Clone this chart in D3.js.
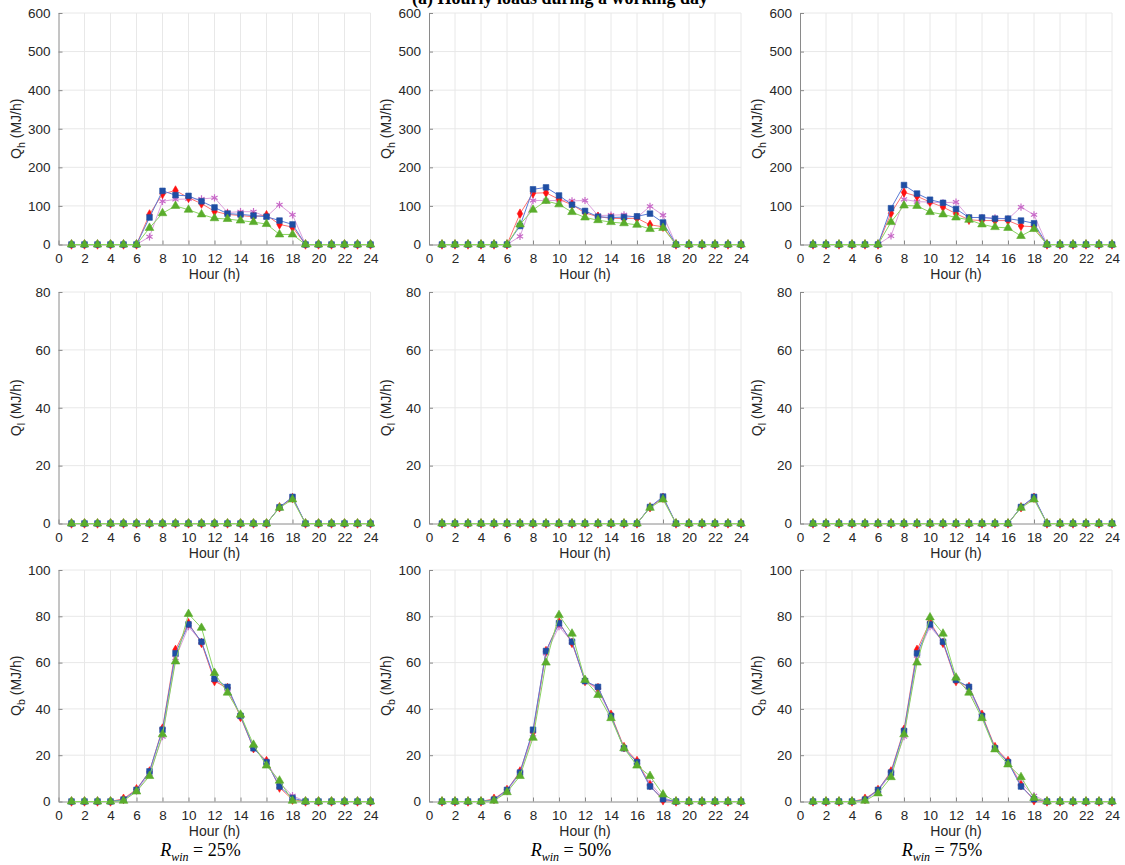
<!DOCTYPE html>
<html>
<head>
<meta charset="utf-8">
<script src="https://cdn.jsdelivr.net/npm/d3@7"></script>
<style>
  body { margin: 0; background: #fff; }
  text { font-family: Arial, "Liberation Sans", sans-serif; }
</style>
</head>
<body>
<svg width="1125" height="865"></svg>
<script>
// hours and tick labels
var hours = [1,2,3,4,5,6,7,8,9,10,11,12,13,14,15,16,17,18,19,20,21,22,23,24];
var xTicks = [0,2,4,6,8,10,12,14,16,18,20,22,24];
var qhTicks = [0,100,200,300,400,500,600];
var qlTicks = [0,20,40,60,80];
var qbTicks = [0,20,40,60,80,100];
var rwinLabels = ['25%', '50%', '75%'];

// Q_h, R_win = 25%
var qh25Red   = [0,0,0,0,0,0,78,131,140,121,106,86,78,75,72,76,52,45,0,0,0,0,0,0];
var qh25Blue  = [0,0,0,0,0,0,70,139,128,126,112,96,80,78,75,72,62,52,0,0,0,0,0,0];
var qh25Pink  = [0,0,0,0,0,0,20,112,117,118,118,121,83,85,85,72,103,77,0,0,0,0,0,0];
var qh25Green = [0,0,0,0,0,0,43,81,100,90,78,68,66,62,58,53,26,26,0,0,0,0,0,0];
// Q_h, R_win = 50%
var qh50Red   = [0,0,0,0,0,0,80,133,134,117,103,82,72,68,67,68,51,46,0,0,0,0,0,0];
var qh50Blue  = [0,0,0,0,0,0,48,143,148,127,103,87,72,70,71,73,80,57,0,0,0,0,0,0];
var qh50Pink  = [0,0,0,0,0,0,21,114,114,114,113,114,75,76,77,70,99,76,0,0,0,0,0,0];
var qh50Green = [0,0,0,0,0,0,52,90,113,104,84,70,63,58,55,51,40,43,0,0,0,0,0,0];
// Q_h, R_win = 75%
var qh75Red   = [0,0,0,0,0,0,81,135,125,110,97,80,64,62,62,62,48,46,0,0,0,0,0,0];
var qh75Blue  = [0,0,0,0,0,0,94,154,132,116,108,92,70,70,67,67,62,55,0,0,0,0,0,0];
var qh75Pink  = [0,0,0,0,0,0,22,117,111,110,108,110,70,70,69,66,97,77,0,0,0,0,0,0];
var qh75Green = [0,0,0,0,0,0,58,101,100,84,78,70,64,52,45,43,22,40,0,0,0,0,0,0];

// Q_l
var ql25Red   = [0,0,0,0,0,0,0,0,0,0,0,0,0,0,0,0,5.6,8.8,0,0,0,0,0,0];
var ql25Blue  = [0,0,0,0,0,0,0,0,0,0,0,0,0,0,0,0,5.6,9.2,0,0,0,0,0,0];
var ql25Pink  = [0,0,0,0,0,0,0,0,0,0,0,0,0,0,0,0,5.5,9.0,0,0,0,0,0,0];
var ql25Green = [0,0,0,0,0,0,0,0,0,0,0,0,0,0,0,0,5.4,8.3,0,0,0,0,0,0];
var ql50Red   = [0,0,0,0,0,0,0,0,0,0,0,0,0,0,0,0,5.6,8.9,0,0,0,0,0,0];
var ql50Blue  = [0,0,0,0,0,0,0,0,0,0,0,0,0,0,0,0,5.7,9.3,0,0,0,0,0,0];
var ql50Pink  = [0,0,0,0,0,0,0,0,0,0,0,0,0,0,0,0,5.5,9.0,0,0,0,0,0,0];
var ql50Green = [0,0,0,0,0,0,0,0,0,0,0,0,0,0,0,0,5.4,8.3,0,0,0,0,0,0];
var ql75Red   = [0,0,0,0,0,0,0,0,0,0,0,0,0,0,0,0,5.6,8.9,0,0,0,0,0,0];
var ql75Blue  = [0,0,0,0,0,0,0,0,0,0,0,0,0,0,0,0,5.7,9.2,0,0,0,0,0,0];
var ql75Pink  = [0,0,0,0,0,0,0,0,0,0,0,0,0,0,0,0,5.5,9.0,0,0,0,0,0,0];
var ql75Green = [0,0,0,0,0,0,0,0,0,0,0,0,0,0,0,0,5.4,8.3,0,0,0,0,0,0];

// Q_b
var qb25Red   = [0,0,0,0,1.2,5.3,13,31.5,65.5,77,68.5,52,49,36.5,23,17.5,6,0.8,0,0,0,0,0,0];
var qb25Blue  = [0,0,0,0,0.8,5,13,31,64,76.5,69,53,49.5,37,23,17,6.5,1.5,0,0,0,0,0,0];
var qb25Pink  = [0,0,0,0,0.5,4.5,12,28,62,75.5,69,52.5,48.5,37,23.5,17,8,2.5,0,0,0,0,0,0];
var qb25Green = [0,0,0,0,0.3,4.3,11,29,60.5,81,75,55.5,47,37.5,24.5,15.5,9,0.3,0,0,0,0,0,0];
var qb50Red   = [0,0,0,0,1.2,5,13,30,65,77.5,68.5,52,49,37.5,23.5,17.5,7,0.5,0,0,0,0,0,0];
var qb50Blue  = [0,0,0,0,0.8,5,12.5,31,65,77,69,52,49.5,37,23,17,6.5,1,0,0,0,0,0,0];
var qb50Pink  = [0,0,0,0,0.5,4.5,12,29,64,75.5,69,52.5,48,37,23,17,8,1.5,0,0,0,0,0,0];
var qb50Green = [0,0,0,0,0.3,4,11,27.5,60,80.5,72.5,52.5,46,36,23,15.5,11,3,0,0,0,0,0,0];
var qb75Red   = [0,0,0,0,1.2,5,13,31,65.5,77.5,68.5,52,49.5,37.5,23.5,17.5,7,0.5,0,0,0,0,0,0];
var qb75Blue  = [0,0,0,0,0.8,5,12.5,30.5,64,76.5,69,52.5,49.5,37,23,17,6.5,1,0,0,0,0,0,0];
var qb75Pink  = [0,0,0,0,0.5,4.5,12,28,63,75.5,69,52.5,48,37,23,17,8,2.5,0,0,0,0,0,0];
var qb75Green = [0,0,0,0,0.3,3.5,10.5,29,60,79.5,72.5,53.5,47,36,22.5,16,10.5,1.5,0,0,0,0,0,0];

var svg = d3.select('svg');

var colX = [58.5, 429, 800];
var rowY = [13, 292, 570];
var panelW = 312;
var panelH = 231.5;

// series styles, in drawing order
var styles = [
  {marker: d3.symbolAsterisk, size: 36, fill: 'none',    stroke: '#c86ac8', line: '#dca0dc'},
  {marker: d3.symbolDiamond,  size: 26, fill: '#ff1010', stroke: '#ff1010', line: '#ff7070'},
  {marker: d3.symbolSquare,   size: 32, fill: '#1f4ea3', stroke: '#1f4ea3', line: '#5a7bd6'},
  {marker: d3.symbolTriangle, size: 32, fill: '#5aad2c', stroke: '#5aad2c', line: '#8ad462'}
];

var rows = [
  {sub: 'h', max: 600, ticks: qhTicks, data: [
    [qh25Pink, qh25Red, qh25Blue, qh25Green],
    [qh50Pink, qh50Red, qh50Blue, qh50Green],
    [qh75Pink, qh75Red, qh75Blue, qh75Green]]},
  {sub: 'l', max: 80, ticks: qlTicks, data: [
    [ql25Pink, ql25Red, ql25Blue, ql25Green],
    [ql50Pink, ql50Red, ql50Blue, ql50Green],
    [ql75Pink, ql75Red, ql75Blue, ql75Green]]},
  {sub: 'b', max: 100, ticks: qbTicks, data: [
    [qb25Pink, qb25Red, qb25Blue, qb25Green],
    [qb50Pink, qb50Red, qb50Blue, qb50Green],
    [qb75Pink, qb75Red, qb75Blue, qb75Green]]}
];

// title, cut by the top edge as in the source figure
svg.append('text')
  .attr('x', 560)
  .attr('y', 4)
  .attr('text-anchor', 'middle')
  .style('font-family', '"Liberation Serif", "Times New Roman", serif')
  .style('font-weight', 'bold')
  .style('font-size', '18px')
  .text('(a) Hourly loads during a working day');

rows.forEach(function(row, ri){
  colX.forEach(function(cx, ci){

    var g = svg.append('g')
      .attr('transform', 'translate(' + cx + ',' + rowY[ri] + ')');

    var x = d3.scaleLinear().domain([0, 24]).range([0, panelW]);
    var y = d3.scaleLinear().domain([0, row.max]).range([panelH, 0]);

    // grid
    g.append('g').selectAll('line')
      .data(xTicks.slice(1))
      .enter().append('line')
      .attr('x1', function(d){ return x(d); })
      .attr('x2', function(d){ return x(d); })
      .attr('y1', 0).attr('y2', panelH)
      .attr('stroke', '#e8e8e8').attr('stroke-width', 1);

    g.append('g').selectAll('line')
      .data(row.ticks.slice(1))
      .enter().append('line')
      .attr('x1', 0).attr('x2', panelW)
      .attr('y1', function(d){ return y(d); })
      .attr('y2', function(d){ return y(d); })
      .attr('stroke', '#e8e8e8').attr('stroke-width', 1);

    // axes, inward ticks
    var xAxis = g.append('g')
      .attr('transform', 'translate(0,' + panelH + ')')
      .call(d3.axisBottom(x).tickValues(xTicks).tickSizeInner(-4).tickSizeOuter(0).tickPadding(9));
    var yAxis = g.append('g')
      .call(d3.axisLeft(y).tickValues(row.ticks).tickSizeInner(-4).tickSizeOuter(0).tickPadding(8));

    [xAxis, yAxis].forEach(function(a){
      a.select('.domain').attr('stroke', '#8a8a8a');
      a.selectAll('.tick line').attr('stroke', '#8a8a8a');
      a.selectAll('.tick text')
        .attr('fill', '#262626')
        .style('font-size', '13.5px')
        .style('font-family', 'Arial, "Liberation Sans", sans-serif');
    });

    g.append('text')
      .attr('x', panelW / 2)
      .attr('y', panelH + 34)
      .attr('text-anchor', 'middle')
      .attr('fill', '#262626')
      .style('font-size', '14px')
      .text('Hour (h)');

    var yl = g.append('text')
      .attr('transform', 'translate(-38,' + (panelH / 2) + ') rotate(-90)')
      .attr('text-anchor', 'middle')
      .attr('fill', '#262626')
      .style('font-size', '14px');
    yl.append('tspan').text('Q');
    yl.append('tspan').attr('dy', 4).style('font-size', '10.5px').text(row.sub);
    yl.append('tspan').attr('dy', -4).text(' (MJ/h)');

    var line = d3.line()
      .x(function(d, i){ return x(hours[i]); })
      .y(function(d){ return y(d); });

    row.data[ci].forEach(function(values, si){
      var st = styles[si];
      g.append('path')
        .attr('d', line(values))
        .attr('fill', 'none')
        .attr('stroke', st.line)
        .attr('stroke-width', 1);

      g.append('g').selectAll('path')
        .data(values)
        .enter().append('path')
        .attr('transform', function(d, i){
          return 'translate(' + x(hours[i]) + ',' + y(d) + ')';
        })
        .attr('d', d3.symbol().type(st.marker).size(st.size))
        .attr('fill', st.fill)
        .attr('stroke', st.stroke)
        .attr('stroke-width', st.fill === 'none' ? 1.2 : 0.6);
    });

    if (ri === 2) {
      var rt = svg.append('text')
        .attr('x', cx + panelW / 2 - 14)
        .attr('y', 856)
        .attr('text-anchor', 'middle')
        .attr('fill', '#000')
        .style('font-family', '"Liberation Serif", "Times New Roman", serif')
        .style('font-size', '18px');
      rt.append('tspan').style('font-style', 'italic').text('R');
      rt.append('tspan').attr('dy', 5).style('font-style', 'italic').style('font-size', '12px').text('win');
      rt.append('tspan').attr('dy', -5).text(' = ' + rwinLabels[ci]);
    }
  });
});
</script>
</body>
</html>
